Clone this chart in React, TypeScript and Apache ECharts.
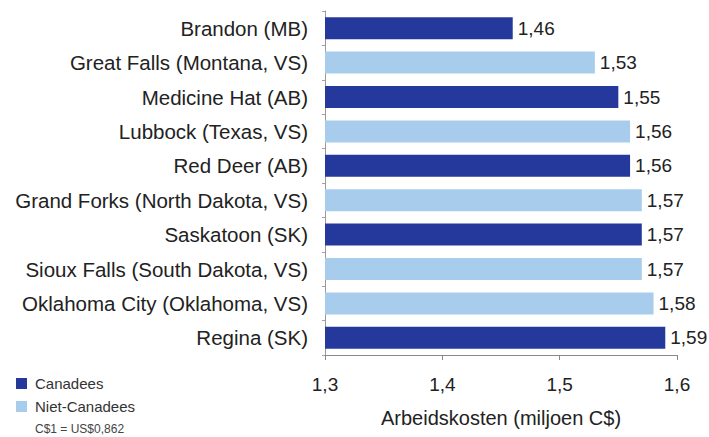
import React, { useEffect, useRef } from "react";
import * as echarts from "echarts";

const categories = [
  "Brandon (MB)",
  "Great Falls (Montana, VS)",
  "Medicine Hat (AB)",
  "Lubbock (Texas, VS)",
  "Red Deer (AB)",
  "Grand Forks (North Dakota, VS)",
  "Saskatoon (SK)",
  "Sioux Falls (South Dakota, VS)",
  "Oklahoma City (Oklahoma, VS)",
  "Regina (SK)",
];
const values = [1.46, 1.53, 1.55, 1.56, 1.56, 1.57, 1.57, 1.57, 1.58, 1.59];
const isCanadian = [true, false, true, false, true, false, true, false, false, true];
const xTicks = [1.3, 1.4, 1.5, 1.6];
const seriesNames = ["Canadees", "Niet-Canadees"];
const axisTitle = "Arbeidskosten (miljoen C$)";
const note = "C$1 = US$0,862";

const DARK = "#24399b";
const LIGHT = "#a8cdec";
const FONT = "'Liberation Sans', Arial, sans-serif";

const fmt = (v: number) => v.toFixed(2).replace(".", ",");

export default function App() {
  const ref = useRef<HTMLDivElement>(null);
  useEffect(() => {
    if (!ref.current) return;
    const chart = echarts.init(ref.current, undefined, { renderer: "svg" });
    const canData = values.map((v, i) => (isCanadian[i] ? v : "-"));
    const nonData = values.map((v, i) => (!isCanadian[i] ? v : "-"));
    const label = {
      show: true,
      position: "right",
      distance: 5,
      fontSize: 19,
      fontFamily: FONT,
      color: "#222",
      formatter: (p: any) => fmt(p.value),
    };
    chart.setOption({
      animation: false,
      backgroundColor: "#fff",
      textStyle: { fontFamily: FONT },
      grid: {
        left: 325,
        right: 32,
        top: 11,
        bottom: 82,
        containLabel: false,
        outerBoundsMode: "none",
      },
      legend: {
        orient: "vertical",
        left: 16,
        top: 375,
        padding: 0,
        itemWidth: 11,
        itemHeight: 11,
        itemGap: 6,
        icon: "rect",
        data: seriesNames,
        textStyle: { fontSize: 15, color: "#333", fontFamily: FONT, lineHeight: 17, padding: [0, 0, 0, 3] },
      },
      xAxis: {
        type: "value",
        min: xTicks[0],
        max: xTicks[xTicks.length - 1],
        interval: 0.1,
        splitLine: { show: false },
        axisLine: { show: true, lineStyle: { color: "#888", width: 1 } },
        axisTick: { show: true, length: 5, lineStyle: { color: "#888" } },
        axisLabel: {
          margin: 20,
          fontSize: 19,
          color: "#222",
          fontFamily: FONT,
          formatter: (v: number) => v.toFixed(1).replace(".", ","),
        },
        name: axisTitle,
        nameLocation: "middle",
        nameGap: 53,
        nameTextStyle: { fontSize: 20, color: "#222", fontFamily: FONT },
      },
      yAxis: {
        type: "category",
        data: categories,
        inverse: true,
        axisLine: { show: true, lineStyle: { color: "#999", width: 1 } },
        axisTick: { show: true, length: 3, lineStyle: { color: "#b99" } },
        axisLabel: { margin: 17, fontSize: 20.5, color: "#222", fontFamily: FONT },
      },
      graphic: [
        {
          type: "text",
          left: 35,
          top: 423,
          style: { text: note, fontSize: 12, fill: "#444", fontFamily: FONT },
        },
      ],
      series: [
        {
          name: seriesNames[0],
          type: "bar",
          stack: "all",
          data: canData,
          barWidth: 22,
          itemStyle: { color: DARK },
          label,
        },
        {
          name: seriesNames[1],
          type: "bar",
          stack: "all",
          data: nonData,
          barWidth: 22,
          itemStyle: { color: LIGHT },
          label,
        },
      ],
    });
    return () => chart.dispose();
  }, []);
  return (
    <div
      ref={ref}
      style={{ position: "fixed", left: 0, top: 0, width: 709, height: 437 }}
    />
  );
}
